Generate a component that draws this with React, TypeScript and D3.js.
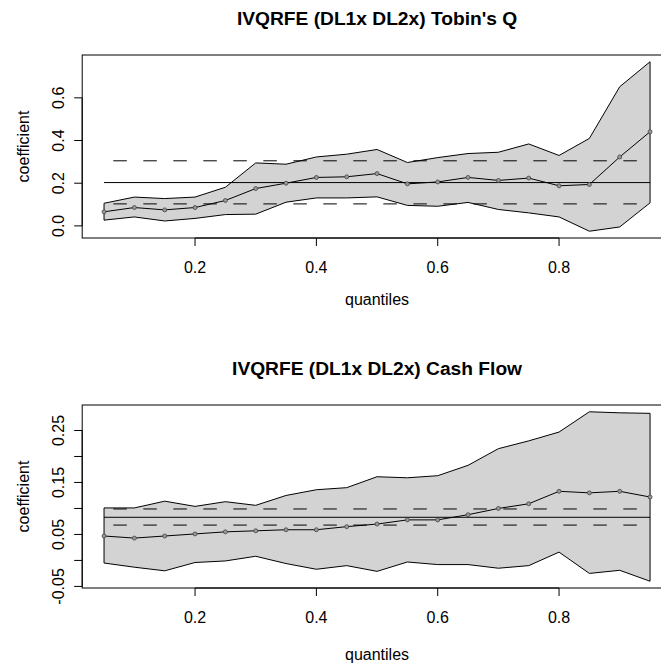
import React from "react";
import * as d3 from "d3";

const quantiles = [0.05, 0.1, 0.15, 0.2, 0.25, 0.3, 0.35, 0.4, 0.45, 0.5, 0.55, 0.6, 0.65, 0.7, 0.75, 0.8, 0.85, 0.9, 0.95];

const tobinCoef = [0.066, 0.086, 0.075, 0.086, 0.119, 0.175, 0.2, 0.227, 0.23, 0.245, 0.197, 0.206, 0.227, 0.213, 0.224, 0.188, 0.194, 0.323, 0.441];
const tobinUpper = [0.106, 0.135, 0.128, 0.135, 0.181, 0.295, 0.289, 0.323, 0.336, 0.358, 0.297, 0.32, 0.339, 0.345, 0.384, 0.33, 0.41, 0.652, 0.769];
const tobinLower = [0.027, 0.042, 0.023, 0.035, 0.053, 0.055, 0.111, 0.131, 0.131, 0.136, 0.096, 0.092, 0.11, 0.077, 0.061, 0.042, -0.025, -0.005, 0.108];
const tobinOls = [0.203, 0.103, 0.305]; // estimate, lower, upper

const cashCoef = [0.047, 0.043, 0.047, 0.051, 0.055, 0.057, 0.059, 0.059, 0.065, 0.07, 0.078, 0.078, 0.088, 0.1, 0.109, 0.133, 0.13, 0.133, 0.122];
const cashUpper = [0.101, 0.101, 0.114, 0.104, 0.113, 0.106, 0.125, 0.136, 0.14, 0.161, 0.159, 0.163, 0.183, 0.215, 0.23, 0.247, 0.286, 0.284, 0.283];
const cashLower = [-0.005, -0.013, -0.02, -0.004, -0.001, 0.008, -0.006, -0.017, -0.01, -0.021, -0.003, -0.008, -0.008, -0.015, -0.01, 0.016, -0.025, -0.019, -0.04];
const cashOls = [0.083, 0.068, 0.099];

const xTicks = [0.2, 0.4, 0.6, 0.8];
const tobinYTicks = [0, 0.2, 0.4, 0.6];
const tobinYLabels = ["0.0", "0.2", "0.4", "0.6"];
const cashYTicks = [-0.05, 0, 0.05, 0.1, 0.15, 0.2, 0.25];
const cashYLabels = ["-0.05", "", "0.05", "", "0.15", "", "0.25"];

const font = "'Liberation Sans', Arial, Helvetica, sans-serif";

// R-style 4% padding of a data range
function pad(lo: number, hi: number): [number, number] {
  const d = (hi - lo) * 0.04;
  return [lo - d, hi + d];
}

type PanelProps = {
  top: number;
  title: string;
  coef: number[];
  upper: number[];
  lower: number[];
  ols: number[];
  yTicks: number[];
  yLabels: string[];
  xlabOffset: number;
};

const Panel = ({ top, title, coef, upper, lower, ols, yTicks, yLabels, xlabOffset }: PanelProps) => {
  const left = 82.2,
    right = 671.9,
    height = 183,
    bottom = top + height;

  const x = d3.scaleLinear().domain(pad(d3.min(quantiles)!, d3.max(quantiles)!)).range([left, right]);
  const y = d3
    .scaleLinear()
    .domain(pad(d3.min(lower)!, d3.max(upper)!))
    .range([bottom, top]);

  const band = d3
    .area<number>()
    .x((d, i) => x(quantiles[i]))
    .y0((d, i) => y(lower[i]))
    .y1((d) => y(d));
  const line = d3
    .line<number>()
    .x((d, i) => x(quantiles[i]))
    .y((d) => y(d));

  const x0 = x(quantiles[0]),
    x1 = x(quantiles[quantiles.length - 1]);
  const cx = (left + right) / 2;
  const cy = (top + bottom) / 2;

  return (
    <g fontFamily={font}>
      <text x={cx} y={top - 30} textAnchor="middle" fontSize={19.2} fontWeight="bold">
        {title}
      </text>

      <path d={band(upper) || ""} fill="#d3d3d3" stroke="#000" strokeWidth={1} />

      <line x1={x0} x2={x1} y1={y(ols[0])} y2={y(ols[0])} stroke="#000" />
      {[ols[1], ols[2]].map((v, i) => (
        <line
          key={i}
          x1={x0}
          x2={x1}
          y1={y(v)}
          y2={y(v)}
          stroke="#000"
          strokeDasharray="13.5,16.5"
          strokeDashoffset={20.7}
        />
      ))}

      <path d={line(coef) || ""} fill="none" stroke="#000" />
      {coef.map((d, i) => (
        <circle key={i} cx={x(quantiles[i])} cy={y(d)} r={2} fill="#999" stroke="#444" strokeWidth={0.8} />
      ))}

      <rect x={left} y={top} width={right - left} height={height} fill="none" stroke="#000" />

      {/* x axis */}
      <line x1={x(xTicks[0])} x2={x(xTicks[xTicks.length - 1])} y1={bottom} y2={bottom} stroke="#000" />
      {xTicks.map((t) => (
        <g key={t}>
          <line x1={x(t)} x2={x(t)} y1={bottom} y2={bottom + 8} stroke="#000" />
          <text x={x(t)} y={bottom + 35} textAnchor="middle" fontSize={16}>
            {t.toFixed(1)}
          </text>
        </g>
      ))}
      <text x={cx} y={bottom + xlabOffset} textAnchor="middle" fontSize={16}>
        quantiles
      </text>

      {/* y axis */}
      <line x1={left} x2={left} y1={y(yTicks[0])} y2={y(yTicks[yTicks.length - 1])} stroke="#000" />
      {yTicks.map((t, i) => (
        <g key={t}>
          <line x1={left} x2={left - 8} y1={y(t)} y2={y(t)} stroke="#000" />
          {yLabels[i] && (
            <text
              transform={`translate(${left - 18.5},${y(t)}) rotate(-90)`}
              textAnchor="middle"
              fontSize={16}
            >
              {yLabels[i]}
            </text>
          )}
        </g>
      ))}
      <text transform={`translate(28.5,${cy}) rotate(-90)`} textAnchor="middle" fontSize={16}>
        coefficient
      </text>
    </g>
  );
};

export default function App() {
  return (
    <svg width={661} height={667} style={{ position: "absolute", left: 0, top: 0, background: "#fff" }}>
      <rect width={661} height={667} fill="#fff" />
      <Panel
        top={55}
        title="IVQRFE (DL1x DL2x) Tobin's Q"
        coef={tobinCoef}
        upper={tobinUpper}
        lower={tobinLower}
        ols={tobinOls}
        yTicks={tobinYTicks}
        yLabels={tobinYLabels}
        xlabOffset={67}
      />
      <Panel
        top={405}
        title="IVQRFE (DL1x DL2x) Cash Flow"
        coef={cashCoef}
        upper={cashUpper}
        lower={cashLower}
        ols={cashOls}
        yTicks={cashYTicks}
        yLabels={cashYLabels}
        xlabOffset={72}
      />
    </svg>
  );
}
